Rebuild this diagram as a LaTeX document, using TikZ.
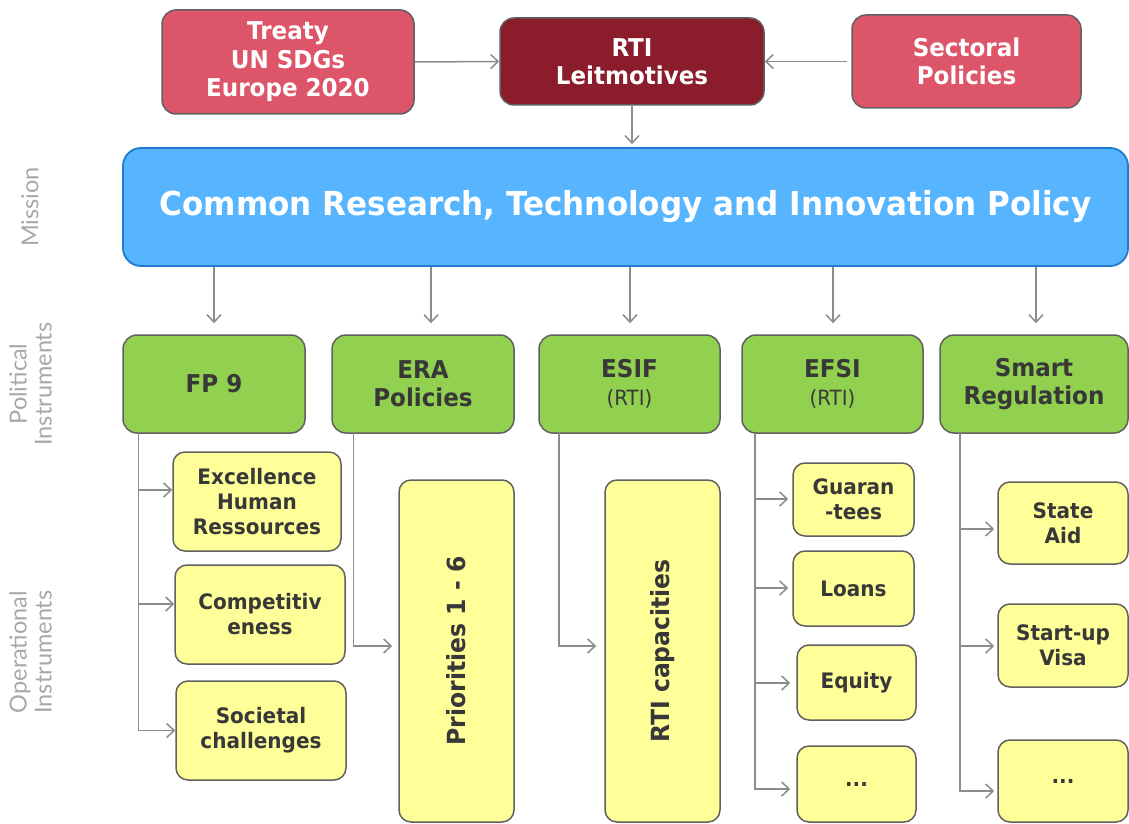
\documentclass[tikz,border=0pt]{standalone}
\usepackage{fontspec}
\setmainfont{DejaVu Sans}[FakeStretch=0.94]
\newfontfamily\labfont{Lato}
\usetikzlibrary{arrows.meta}
\definecolor{pinkc}{HTML}{DC5569}
\definecolor{darkred}{HTML}{8B1C2C}
\definecolor{bluefill}{HTML}{57B5FF}
\definecolor{blueedge}{HTML}{1F7BD0}
\definecolor{greenc}{HTML}{92D050}
\definecolor{yellowc}{HTML}{FFFF99}
\definecolor{edgec}{HTML}{606060}
\definecolor{arrc}{HTML}{8C8C8C}
\definecolor{txtc}{HTML}{383838}
\definecolor{labc}{HTML}{A8A8A8}
\tikzset{
  topbox/.style={draw=edgec, line width=1.5pt, rounded corners=14pt, align=center, text=white,
     font=\fontsize{24.5}{28.5}\selectfont\bfseries, inner sep=0pt},
  greenbox/.style={draw=edgec, line width=1.5pt, fill=greenc, rounded corners=14pt, align=center, text=txtc,
     font=\fontsize{24.5}{28}\selectfont\bfseries, inner sep=0pt, minimum height=98pt},
  ybox/.style={draw=edgec, line width=1.5pt, fill=yellowc, rounded corners=12pt, align=center, text=txtc,
     font=\fontsize{21.3}{25}\selectfont\bfseries, inner sep=0pt},
  vbox/.style={ybox, minimum width=115pt, minimum height=342pt},
  vtext/.style={rotate=90, text=txtc, font=\fontsize{25}{28}\selectfont\bfseries},
  sidelab/.style={rotate=90, align=center, text=labc, font=\labfont\fontsize{23.5}{25}\selectfont},
  conn/.style={draw=arrc, line width=1.5pt},
  arr/.style={conn, -{Straight Barb[length=7.5pt,width=14pt,line width=1.5pt]}},
}
\begin{document}
\begin{tikzpicture}[x=1pt,y=-1pt]
\useasboundingbox (0,0) rectangle (1129,824);
% top row
\node[topbox, fill=pinkc, minimum width=252pt, minimum height=104pt] (treaty) at (288,62) {Treaty\\UN SDGs\\Europe 2020};
\node[topbox, fill=darkred, minimum width=264pt, minimum height=87pt] (rti) at (632,61.5) {RTI\\Leitmotives};
\node[topbox, fill=pinkc, minimum width=229pt, minimum height=93pt] (sect) at (966.5,61.5) {Sectoral\\Policies};
% mission
\node[draw=blueedge, line width=1.8pt, fill=bluefill, rounded corners=18pt, minimum width=1005pt, minimum height=118pt,
      inner sep=0pt, text=white, font=\fontsize{33}{36}\selectfont\bfseries] (common) at (625.5,207)
      {Common Research, Technology and Innovation Policy};
\draw[arr] (treaty.east) -- (rti.west);
\draw[arr] ([xshift=-4pt]sect.west) -- (rti.east);
\draw[arr, shorten >=3pt] (rti.south) -- (rti.south |- common.north);
% side labels
\node[sidelab] (lmis) at (30,207) {Mission};
\node[sidelab] (lpol) at (30.5,384) {Political\\Instruments};
\node[sidelab] (lop) at (30.5,652) {Operational\\Instruments};
% green boxes
\node[greenbox, minimum width=182pt] (fp9) at (214,384) {FP 9};
\node[greenbox, minimum width=182pt] (era) at (423,384) {ERA\\Policies};
\node[greenbox, minimum width=181pt] (esif) at (629.5,384) {ESIF\\{\fontsize{21}{24}\selectfont\mdseries (RTI)}};
\node[greenbox, minimum width=181pt] (efsi) at (832.5,384) {EFSI\\{\fontsize{21}{24}\selectfont\mdseries (RTI)}};
\node[greenbox, minimum width=188pt] (smart) at (1034,384) {Smart\\Regulation};
\foreach \n/\dx in {fp9/0, era/8, esif/0.5, efsi/0.5, smart/2}{
  \draw[arr, shorten >=11pt] ([xshift=\dx pt]\n.north |- common.south) -- ([xshift=\dx pt]\n.north);
}
% FP9 children
\node[ybox, minimum width=168pt, minimum height=99pt] (exc) at (257,501.5) {Excellence\\Human\\Ressources};
\node[ybox, minimum width=170pt, minimum height=99pt] (comp) at (260,614.5) {Competitiv\\eness};
\node[ybox, minimum width=170pt, minimum height=99pt] (soc) at (261,730.5) {Societal\\challenges};
\coordinate (t1) at (138.6,433);
\draw[arr] (t1) |- (exc.west |- 0,490);
\draw[arr] (t1) |- (comp.west |- 0,604);
\draw[arr] (t1) |- (soc.west);
% ERA
\node[vbox] (prio) at (456.5,651) {};
\node[vtext] (priot) at (prio.center) {Priorities 1 - 6};
\coordinate (t2) at (353.6,433);
\draw[arr, shorten >=6pt] (t2) |- (prio.west |- 0,646);
% ESIF
\node[vbox] (cap) at (662.5,651) {};
\node[vtext] (capt) at (cap.center) {RTI capacities};
\coordinate (t3) at (559,433);
\draw[arr, shorten >=8pt] (t3) |- (cap.west |- 0,646);
% EFSI
\node[ybox, minimum width=121pt, minimum height=73pt] (guar) at (853.5,499.5) {Guaran\\-tees};
\node[ybox, minimum width=121pt, minimum height=75pt] (loans) at (853.5,588.5) {Loans};
\node[ybox, minimum width=119pt, minimum height=75pt] (equity) at (856.5,682.5) {Equity};
\node[ybox, minimum width=119pt, minimum height=76pt] (dots1) at (856.5,784) {...};
\coordinate (t4) at (755,433);
\draw[arr, shorten >=4pt] (t4) |- (guar.west |- 0,499);
\draw[arr, shorten >=4pt] (t4) |- (loans.west |- 0,588);
\draw[arr, shorten >=6pt] (t4) |- (equity.west |- 0,683);
\draw[arr, shorten >=6pt] (t4) |- (dots1.west |- 0,789);
% Smart
\node[ybox, minimum width=130pt, minimum height=82pt] (state) at (1063,523) {State\\Aid};
\node[ybox, minimum width=130pt, minimum height=83pt] (start) at (1063,645.5) {Start-up\\Visa};
\node[ybox, minimum width=130pt, minimum height=82pt] (dots2) at (1063,781) {...};
\coordinate (t5) at (960,433);
\draw[arr, shorten >=3pt] (t5) |- (state.west |- 0,529);
\draw[arr, shorten >=3pt] (t5) |- (start.west |- 0,646);
\draw[arr, shorten >=3pt] (t5) |- (dots2.west |- 0,791);
\end{tikzpicture}
\end{document}
